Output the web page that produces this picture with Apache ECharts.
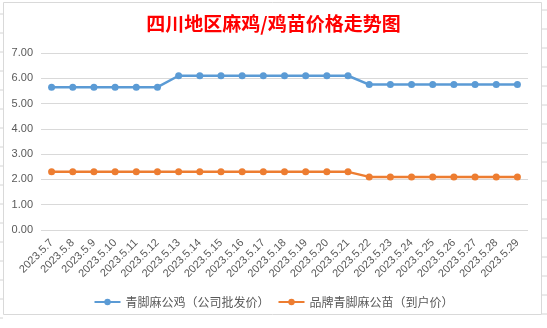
<!DOCTYPE html>
<html><head><meta charset="utf-8">
<script src="https://cdn.jsdelivr.net/npm/echarts@6/dist/echarts.min.js"></script>
<style>html,body{margin:0;padding:0;background:#fff;}#c{width:547px;height:328px;}</style>
</head><body><div id="c"></div>
<script>
const titleText = '四川地区麻鸡/鸡苗价格走势图';
const categories = ['2023.5.7','2023.5.8','2023.5.9','2023.5.10','2023.5.11','2023.5.12','2023.5.13','2023.5.14','2023.5.15','2023.5.16','2023.5.17','2023.5.18','2023.5.19','2023.5.20','2023.5.21','2023.5.22','2023.5.23','2023.5.24','2023.5.25','2023.5.26','2023.5.27','2023.5.28','2023.5.29'];
const roosterName = '青脚麻公鸡（公司批发价）';
const roosterValues = [5.65,5.65,5.65,5.65,5.65,5.65,6.1,6.1,6.1,6.1,6.1,6.1,6.1,6.1,6.1,5.75,5.75,5.75,5.75,5.75,5.75,5.75,5.75];
const chickName = '品牌青脚麻公苗（到户价）';
const chickValues = [2.3,2.3,2.3,2.3,2.3,2.3,2.3,2.3,2.3,2.3,2.3,2.3,2.3,2.3,2.3,2.1,2.1,2.1,2.1,2.1,2.1,2.1,2.1];

const chart = echarts.init(document.getElementById('c'), null, {renderer:'canvas'});
const font = '"Noto Sans CJK SC", "Noto Sans", sans-serif';
const sheetLines = [];
for (let y = 10; y < 328; y += 19) {
  sheetLines.push({type:'line', shape:{x1:542,y1:y,x2:547,y2:y}, style:{stroke:'#D4D4D4',lineWidth:1}, silent:true});
  sheetLines.push({type:'line', shape:{x1:0,y1:y+4,x2:3,y2:y+4}, style:{stroke:'#D4D4D4',lineWidth:1}, silent:true});
}
chart.setOption({
  animation:false,
  backgroundColor:'#fff',
  graphic: sheetLines.concat([
    {type:'rect', shape:{x:3.5,y:2.5,width:538,height:312}, style:{fill:null, stroke:'#D9D9D9', lineWidth:1}, silent:true, z:-1}
  ]),
  title:{text:titleText, left:'center', top:9, textStyle:{color:'#FF0000', fontSize:19, fontWeight:'bold', fontFamily:font}},
  grid:{left:41, right:19, top:53, bottom:98, containLabel:false},
  legend:{bottom:15, left:'center', itemWidth:26, itemHeight:8, itemGap:8,
    textStyle:{color:'#595959', fontSize:12, fontFamily:font},
    data:[roosterName, chickName]},
  xAxis:{type:'category', data:categories, boundaryGap:true,
    axisLine:{show:false}, axisTick:{show:false},
    axisLabel:{rotate:45, color:'#595959', fontSize:11, fontFamily:'"Liberation Sans", Arial, sans-serif', margin:11, interval:0}},
  yAxis:{type:'value', min:0, max:7, interval:1,
    axisLine:{show:false}, axisTick:{show:false},
    axisLabel:{color:'#595959', fontSize:11, fontFamily:'"Liberation Sans", Arial, sans-serif', margin:8, formatter:v=>v.toFixed(2)},
    splitLine:{lineStyle:{color:'#D9D9D9', width:1}}},
  series:[
    {name:roosterName, type:'line', data:roosterValues, symbol:'circle', symbolSize:7,
      lineStyle:{color:'#5B9BD5', width:2.5}, itemStyle:{color:'#5B9BD5'}},
    {name:chickName, type:'line', data:chickValues, symbol:'circle', symbolSize:7,
      lineStyle:{color:'#ED7D31', width:2.5}, itemStyle:{color:'#ED7D31'}}
  ]
});
</script></body></html>
